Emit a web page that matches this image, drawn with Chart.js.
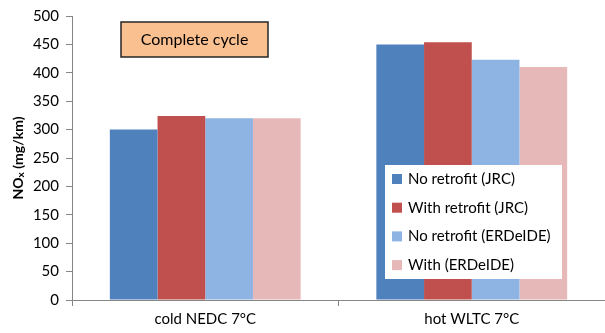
<!DOCTYPE html>
<html>
<head>
<meta charset="utf-8">
<script src="https://cdn.jsdelivr.net/npm/chart.js@4/dist/chart.umd.min.js"></script>
<style>
  html, body { margin: 0; padding: 0; background: #fff; }
  #wrap { width: 605px; height: 333px; position: relative; }
</style>
</head>
<body>
<div id="wrap"><canvas id="noxChart"></canvas></div>
<script>
// Werte
const categories = ['cold NEDC 7°C', 'hot WLTC 7°C'];
const seriesNames = ['No retrofit (JRC)', 'With retrofit (JRC)', 'No retrofit (ERDeIDE)', 'With (ERDeIDE)'];
const noRetrofitJRC = [300, 450];
const withRetrofitJRC = [324, 454];
const noRetrofitERDeIDE = [320, 423];
const withERDeIDE = [320, 410];
const yTicks = [0, 50, 100, 150, 200, 250, 300, 350, 400, 450, 500];

const seriesColors = ['#4F81BD', '#C0504D', '#8EB4E3', '#E6B9B8'];
const FONT = 'Lato, "Open Sans", sans-serif';

// Kasten "Complete cycle", Y-Achsentitel und Legende selbst zeichnen
const extras = {
    id: 'extras',
    afterDraw(chart) {
        const ctx = chart.ctx;
        ctx.save();

        // Titelkasten
        ctx.fillStyle = '#FAC090';
        ctx.fillRect(121, 22, 147, 35);
        ctx.strokeStyle = '#262626';
        ctx.lineWidth = 1.5;
        ctx.strokeRect(121, 22, 147, 35);
        ctx.fillStyle = '#000';
        ctx.font = '16px ' + FONT;
        ctx.textAlign = 'center';
        ctx.textBaseline = 'middle';
        ctx.fillText('Complete cycle', 194.5, 40);

        // Y-Achsentitel mit tiefgestelltem x
        ctx.translate(18, 158);
        ctx.rotate(-Math.PI / 2);
        ctx.textAlign = 'left';
        ctx.textBaseline = 'middle';
        const p1 = 'NO', p2 = 'x', p3 = ' (mg/km)';
        ctx.font = 'bold 14px ' + FONT;
        const w1 = ctx.measureText(p1).width;
        const w3 = ctx.measureText(p3).width;
        ctx.font = 'bold 10px ' + FONT;
        const w2 = ctx.measureText(p2).width;
        let x = -(w1 + w2 + w3) / 2;
        ctx.font = 'bold 14px ' + FONT;
        ctx.fillText(p1, x, 0);
        x += w1;
        ctx.font = 'bold 10px ' + FONT;
        ctx.fillText(p2, x, 3);
        x += w2;
        ctx.font = 'bold 14px ' + FONT;
        ctx.fillText(p3, x, 0);
        ctx.setTransform(1, 0, 0, 1, 0, 0);

        // Legende
        ctx.fillStyle = '#fff';
        ctx.fillRect(385, 165, 177, 114);
        ctx.font = '15px ' + FONT;
        ctx.textAlign = 'left';
        ctx.textBaseline = 'middle';
        chart.data.datasets.forEach((ds, i) => {
            const y = 179 + i * 28.7;
            ctx.fillStyle = ds.backgroundColor;
            ctx.fillRect(392, y - 5, 10, 10);
            ctx.fillStyle = '#000';
            ctx.fillText(ds.label, 408, y);
        });
        ctx.restore();
    }
};

const allValues = [noRetrofitJRC, withRetrofitJRC, noRetrofitERDeIDE, withERDeIDE];

const ctx = document.getElementById('noxChart').getContext('2d');
const chart = new Chart(ctx, {
    type: 'bar',
    data: {
        labels: categories,
        datasets: seriesNames.map((name, i) => ({
            label: name,
            data: allValues[i],
            backgroundColor: seriesColors[i],
            borderWidth: 0,
            categoryPercentage: 0.716,
            barPercentage: 1.0
        }))
    },
    options: {
        responsive: true,
        maintainAspectRatio: false,
        animation: false,
        layout: { padding: { top: 7, right: 0, left: 0, bottom: 0 } },
        plugins: {
            legend: { display: false },
            tooltip: { enabled: false }
        },
        scales: {
            x: {
                grid: { display: true, drawOnChartArea: false, drawTicks: true, tickLength: 6, color: '#868686', offset: true },
                border: { display: true, color: '#868686', width: 1 },
                ticks: { color: '#000', font: { family: FONT, size: 15 }, padding: 4 },
                afterFit(scale) { scale.height = 33; }
            },
            y: {
                min: 0,
                max: 500,
                afterBuildTicks(scale) { scale.ticks = yTicks.map(v => ({ value: v })); },
                grid: { display: true, drawOnChartArea: false, drawTicks: true, tickLength: 6, color: '#868686' },
                border: { display: true, color: '#868686', width: 1 },
                ticks: { color: '#000', font: { family: FONT, size: 15 }, padding: 7 },
                afterFit(scale) { scale.width = 72; }
            }
        }
    },
    plugins: [extras]
});
</script>
</body>
</html>
